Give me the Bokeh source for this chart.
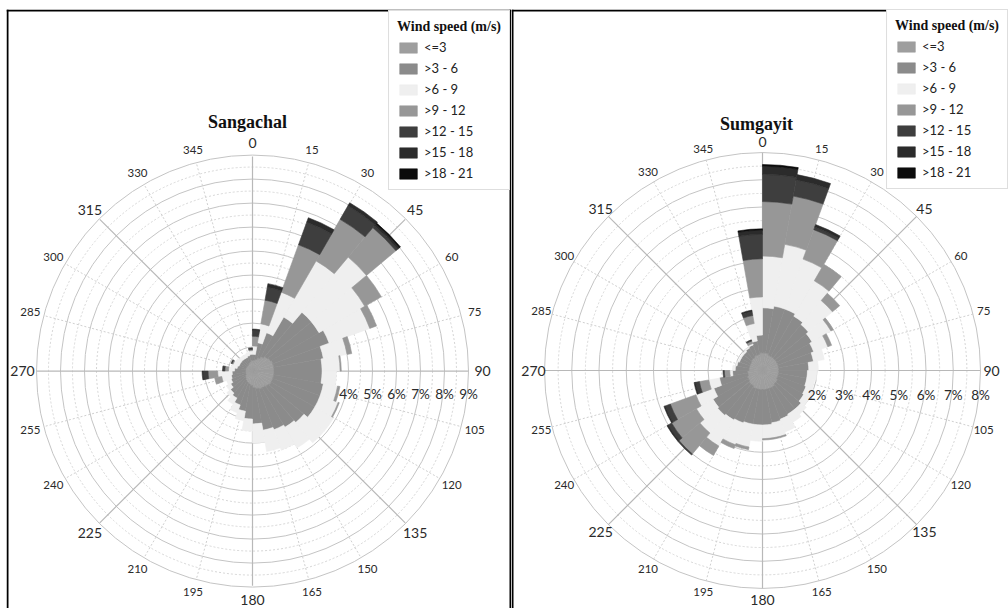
import math
from bokeh.plotting import figure
from bokeh.layouts import row
from bokeh.models import ColumnDataSource, Range1d, Span, Legend, LegendItem
from bokeh.embed import file_html
from bokeh.resources import INLINE
from bokeh.core.properties import value

# ---------------- data ----------------
sector_starts = list(range(0, 360, 10))          # 10-degree sectors
direction_ticks = list(range(0, 360, 15))
speed_classes = ["<=3", ">3 - 6", ">6 - 9", ">9 - 12", ">12 - 15", ">15 - 18", ">18 - 21"]
class_colors = ["#9e9e9e", "#8b8b8b", "#efefef", "#979797", "#3e3e3e", "#2b2b2b", "#0c0c0c"]

# Sangachal: frequency (%) per sector for each speed class
sang_le3 = [0.45, 0.5, 0.6, 0.7, 0.8, 0.85, 0.9, 0.9, 0.9, 0.9, 0.9, 0.9, 0.9, 0.85, 0.8, 0.8, 0.75, 0.7,
            0.6, 0.55, 0.5, 0.45, 0.4, 0.35, 0.3, 0.3, 0.3, 0.3, 0.3, 0.3, 0.3, 0.3, 0.3, 0.35, 0.4, 0.45]
sang_3_6 = [0.25, 0.7, 1.1, 1.9, 2.4, 2.35, 2.5, 2.1, 2.0, 2.0, 2.1, 2.1, 2.1, 1.95, 1.9, 1.8, 1.75, 1.5,
            1.4, 1.15, 1.0, 0.85, 0.8, 0.7, 0.65, 0.6, 0.55, 0.45, 0.35, 0.3, 0.3, 0.3, 0.3, 0.25, 0.25, 0.25]
sang_6_9 = [0.35, 0.8, 1.8, 2.7, 3.0, 2.2, 1.8, 1.0, 0.75, 0.6, 0.6, 0.8, 0.9, 1.1, 1.0, 0.9, 0.9, 0.8,
            0.5, 0.4, 0.35, 0.3, 0.2, 0.2, 0.2, 0.4, 0.6, 0.25, 0.25, 0.25, 0.2, 0.15, 0.15, 0.15, 0.15, 0.15]
sang_9_12 = [0.4, 1.0, 2.1, 2.0, 1.6, 0.8, 0.3, 0.2, 0.05, 0, 0.1, 0.05, 0, 0, 0, 0, 0, 0,
             0, 0, 0, 0, 0, 0, 0, 0.3, 0.4, 0.15, 0, 0.05, 0, 0, 0, 0, 0, 0.05]
sang_12_15 = [0.25, 0.55, 1.0, 0.65, 0.1, 0, 0, 0, 0, 0, 0, 0, 0, 0, 0, 0, 0, 0,
              0, 0, 0, 0, 0, 0, 0, 0, 0.2, 0.1, 0, 0.05, 0, 0, 0, 0, 0, 0.07]
sang_15_18 = [0.05, 0.15, 0.2, 0.15, 0.1, 0, 0, 0, 0, 0, 0, 0, 0, 0, 0, 0, 0, 0,
              0, 0, 0, 0, 0, 0, 0, 0, 0.05, 0, 0, 0, 0, 0, 0, 0, 0, 0]
sang_18_21 = [0, 0, 0, 0, 0.05, 0, 0, 0, 0, 0, 0, 0, 0, 0, 0, 0, 0, 0,
              0, 0, 0, 0, 0, 0, 0, 0, 0, 0, 0, 0, 0, 0, 0, 0, 0, 0]
sang_pct_labels = [4, 5, 6, 7, 8, 9]

# Sumgayit
sumg_le3 = [0.65, 0.65, 0.6, 0.6, 0.6, 0.6, 0.6, 0.6, 0.6, 0.6, 0.6, 0.6, 0.65, 0.65, 0.7, 0.7, 0.7, 0.7,
            0.7, 0.7, 0.7, 0.65, 0.65, 0.6, 0.6, 0.55, 0.55, 0.5, 0.5, 0.5, 0.5, 0.55, 0.55, 0.6, 0.6, 0.65]
sumg_3_6 = [1.65, 1.75, 1.8, 1.7, 1.6, 1.5, 1.4, 1.3, 1.1, 1.05, 1.05, 1.1, 1.1, 1.2, 1.15, 1.2, 1.25, 1.3,
            1.3, 1.3, 1.35, 1.45, 1.5, 1.5, 1.3, 1.05, 0.55, 0.5, 0.45, 0.4, 0.4, 0.35, 0.4, 0.4, 0.5, 0.65]
sumg_6_9 = [1.9, 2.3, 1.95, 1.5, 1.15, 0.8, 0.55, 0.4, 0.35, 0.35, 0.3, 0.3, 0.25, 0.25, 0.35, 0.5, 0.55, 0.5,
            0.6, 0.85, 0.85, 1.1, 0.85, 0.7, 0.7, 0.4, 0.1, 0.1, 0.05, 0.05, 0.05, 0.05, 0.05, 0.05, 0.65, 1.4]
sumg_9_12 = [2.0, 1.8, 1.15, 0.7, 0.35, 0.1, 0.15, 0, 0, 0, 0, 0, 0, 0, 0, 0, 0.05, 0.05,
             0, 0.1, 0.15, 0.4, 1.0, 1.05, 1.0, 0.35, 0.2, 0, 0, 0, 0, 0, 0, 0.1, 0.3, 1.4]
sumg_12_15 = [1.0, 0.6, 0.1, 0, 0, 0, 0, 0, 0, 0, 0, 0, 0, 0, 0, 0, 0, 0,
              0, 0, 0, 0, 0.05, 0.15, 0.2, 0.15, 0.05, 0, 0, 0, 0, 0, 0, 0.05, 0.15, 0.9]
sumg_15_18 = [0.3, 0.2, 0.1, 0, 0, 0, 0, 0, 0, 0, 0, 0, 0, 0, 0, 0, 0, 0,
              0, 0, 0, 0, 0, 0.05, 0.05, 0.05, 0, 0, 0, 0, 0, 0, 0, 0, 0.05, 0.15]
sumg_18_21 = [0.06, 0, 0, 0, 0, 0, 0, 0, 0, 0, 0, 0, 0, 0, 0, 0, 0, 0,
              0, 0, 0, 0, 0, 0, 0, 0, 0, 0, 0, 0, 0, 0, 0, 0, 0, 0.05]
sumg_pct_labels = [2, 3, 4, 5, 6, 7, 8]

H = 608
FONT = "Lato"


def build(name, layers, ppu, max_ring, width, left, top, cx, cy, pct_labels, pct_dy,
          label_gap, title_dx, title_up, legend_margin, draw_right):
    fw, fh = width - left, H - top          # frame size in px
    p = figure(width=width, height=H, output_backend="svg", toolbar_location=None,
               x_range=Range1d(-cx / ppu, (fw - cx) / ppu),
               y_range=Range1d(-(fh - cy) / ppu, cy / ppu),
               x_axis_location=None, y_axis_location=None,
               min_border_left=left, min_border_top=top, min_border_right=0, min_border_bottom=0,
               outline_line_color=None, background_fill_color="white",
               border_fill_color="white")
    p.grid.visible = False

    # grid rings
    full = list(range(1, max_ring + 1))
    half = [k - 0.5 for k in full]
    p.circle(x=0, y=0, radius=half, fill_color=None, line_color="#d6d6d6",
             line_dash="2 2", line_width=1)
    p.circle(x=0, y=0, radius=full, fill_color=None, line_color="#c4c4c4", line_width=1)

    # radial lines
    minor = [a for a in direction_ticks if a % 45]
    major = [a for a in direction_ticks if a % 45 == 0]
    R = max_ring
    p.segment(x0=0, y0=0, x1=[R * math.sin(math.radians(a)) for a in minor],
              y1=[R * math.cos(math.radians(a)) for a in minor],
              line_color="#d0d0d0", line_dash="2 2", line_width=1)
    p.segment(x0=0, y0=0, x1=[R * math.sin(math.radians(a)) for a in major],
              y1=[R * math.cos(math.radians(a)) for a in major],
              line_color="#b8b8b8", line_width=1.2)

    # stacked wedges
    run = [0.0] * len(sector_starts)
    items = []
    for cls, col, layer in zip(speed_classes, class_colors, layers):
        inner, outer, st, en = [], [], [], []
        for i, a in enumerate(sector_starts):
            if layer[i] > 0:
                inner.append(run[i])
                outer.append(run[i] + layer[i])
                st.append(math.radians(90 - a - 10))
                en.append(math.radians(90 - a))
        run = [r + v for r, v in zip(run, layer)]
        src = ColumnDataSource(dict(inner=inner, outer=outer, start=st, end=en))
        r = p.annular_wedge(x=0, y=0, inner_radius="inner", outer_radius="outer",
                            start_angle="start", end_angle="end", source=src,
                            fill_color=col, line_color=col, line_width=0.6)
        items.append(LegendItem(label=cls, renderers=[r]))

    # direction labels
    lab_r = R + label_gap / ppu
    for group, size in ((major, "14px"), (minor, "11.5px")):
        p.text(x=[lab_r * math.sin(math.radians(a)) for a in group],
               y=[lab_r * math.cos(math.radians(a)) for a in group],
               text=[str(a) for a in group], text_font=value(FONT), text_font_size=size,
               text_align="center", text_baseline="middle", text_color="#2a2a2a")

    # percentage labels
    p.text(x=pct_labels, y=[-pct_dy / ppu] * len(pct_labels), text=[f"{k}%" for k in pct_labels],
           text_font=value(FONT), text_font_size="13.5px", text_align="center",
           text_baseline="middle", text_color="#2a2a2a")

    # title
    p.text(x=[title_dx / ppu], y=[title_up / ppu], text=[name],
           text_font=value("Liberation Serif"), text_font_style="bold", text_font_size="18px",
           text_align="center", text_baseline="middle", text_color="#111111")

    legend = Legend(items=items, title="Wind speed (m/s)", location="top_right",
                    margin=legend_margin, padding=8, spacing=5, label_height=15,
                    glyph_height=13, glyph_width=22, label_standoff=5, title_standoff=4,
                    title_text_font="Liberation Serif", title_text_font_style="bold",
                    title_text_font_size="14px", title_text_color="#111111",
                    label_text_font=FONT, label_text_font_size="13px", label_text_color="#222222",
                    border_line_color="#bdbdbd", border_line_width=1,
                    background_fill_color="white", background_fill_alpha=1.0)
    p.add_layout(legend)

    # panel frame (left, top, [right])
    xs, xe = p.x_range.start, p.x_range.end
    ye = p.y_range.end
    p.add_layout(Span(location=xs + 1 / ppu, dimension="height", line_color="black", line_width=2))
    p.add_layout(Span(location=ye - 1 / ppu, dimension="width", line_color="black", line_width=2))
    if draw_right:
        p.add_layout(Span(location=xe - 1 / ppu, dimension="height", line_color="black",
                          line_width=2))
    return p


p1 = build("Sangachal",
           [sang_le3, sang_3_6, sang_6_9, sang_9_12, sang_12_15, sang_15_18, sang_18_21],
           ppu=24.0, max_ring=9, width=511, left=6, top=5, cx=246, cy=364,
           pct_labels=sang_pct_labels, pct_dy=23, label_gap=14,
           title_dx=-5, title_up=251, legend_margin=1, draw_right=True)
p2 = build("Sumgayit",
           [sumg_le3, sumg_3_6, sumg_6_9, sumg_9_12, sumg_12_15, sumg_15_18, sumg_18_21],
           ppu=27.25, max_ring=8, width=497, left=0, top=9, cx=251, cy=361,
           pct_labels=sumg_pct_labels, pct_dy=24, label_gap=11,
           title_dx=-6, title_up=247, legend_margin=0, draw_right=False)

layout = row(p1, p2, spacing=0)
open("out.html", "w").write(file_html(layout, INLINE))
